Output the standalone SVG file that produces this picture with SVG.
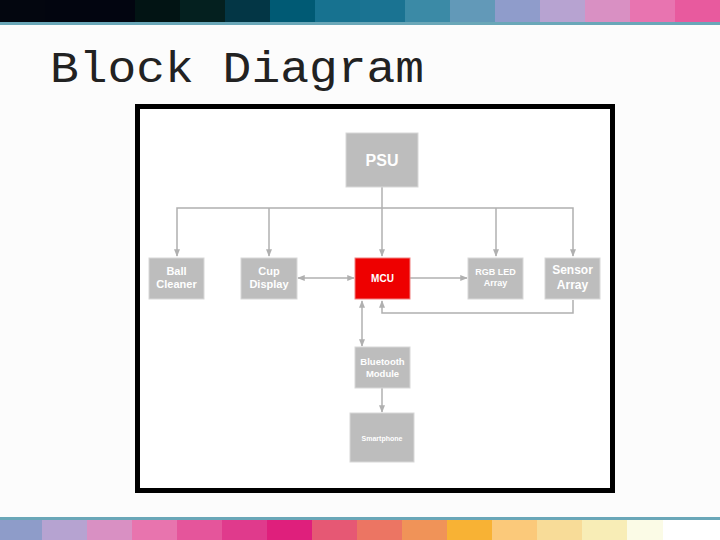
<svg xmlns="http://www.w3.org/2000/svg" width="720" height="540" viewBox="0 0 720 540">
<defs>
<marker id="ah" viewBox="0 0 10 10" refX="9" refY="5" markerWidth="5" markerHeight="5" orient="auto-start-reverse"><path d="M0,1 L10,5 L0,9 z" fill="#b0b0b0"/></marker>
<style>
.box{fill:#bdbdbd;stroke:#d8d8d8;stroke-width:1}
.t{font-family:"Liberation Sans",Arial,sans-serif;font-weight:bold;fill:#fff;text-anchor:middle}
.c{stroke:#b0b0b0;stroke-width:1.5;fill:none}
</style>
</defs>
<rect width="720" height="540" fill="#fcfcfc"/>
<g id="topbar">
<rect x="0" y="0" width="45" height="22" fill="#03060f"/><rect x="45" y="0" width="45" height="22" fill="#02050f"/><rect x="90" y="0" width="45" height="22" fill="#020510"/><rect x="135" y="0" width="45" height="22" fill="#021414"/><rect x="180" y="0" width="45" height="22" fill="#04201f"/><rect x="225" y="0" width="45" height="22" fill="#033645"/><rect x="270" y="0" width="45" height="22" fill="#005a74"/><rect x="315" y="0" width="45" height="22" fill="#177290"/><rect x="360" y="0" width="45" height="22" fill="#1a7392"/><rect x="405" y="0" width="45" height="22" fill="#3b8aa6"/><rect x="450" y="0" width="45" height="22" fill="#6299b8"/><rect x="495" y="0" width="45" height="22" fill="#8f9ccb"/><rect x="540" y="0" width="45" height="22" fill="#b7a3d1"/><rect x="585" y="0" width="45" height="22" fill="#d990c3"/><rect x="630" y="0" width="45" height="22" fill="#e874b0"/><rect x="675" y="0" width="45" height="22" fill="#e85a9e"/>
<rect x="0" y="22" width="720" height="3" fill="#6aa7b8"/>
</g>
<g id="bottombar">
<rect x="0" y="517" width="720" height="3" fill="#6aa7b8"/>
<rect x="0" y="520" width="720" height="20" fill="#ffffff"/>
<rect x="0" y="520" width="42" height="20" fill="#8e9cc9"/><rect x="42" y="520" width="45" height="20" fill="#b6a3d1"/><rect x="87" y="520" width="45" height="20" fill="#d990c3"/><rect x="132" y="520" width="45" height="20" fill="#e874ae"/><rect x="177" y="520" width="45" height="20" fill="#e5559b"/><rect x="222" y="520" width="45" height="20" fill="#e03a8c"/><rect x="267" y="520" width="45" height="20" fill="#df1f7c"/><rect x="312" y="520" width="45" height="20" fill="#e65874"/><rect x="357" y="520" width="45" height="20" fill="#ec7563"/><rect x="402" y="520" width="45" height="20" fill="#f09358"/><rect x="447" y="520" width="45" height="20" fill="#f8b234"/><rect x="492" y="520" width="45" height="20" fill="#fbc97a"/><rect x="537" y="520" width="45" height="20" fill="#f8dc98"/><rect x="582" y="520" width="45" height="20" fill="#f8edb6"/><rect x="627" y="520" width="36" height="20" fill="#fbfbe6"/>
</g>
<text x="50" y="82" font-family="Liberation Mono,monospace" font-size="44" textLength="374" lengthAdjust="spacingAndGlyphs" fill="#222">Block Diagram</text>
<rect x="137.500" y="106.500" width="475" height="384" fill="#fff" stroke="#000" stroke-width="5"/>
<g id="connectors">
<line class="c" x1="382" y1="187" x2="382" y2="256" marker-end="url(#ah)"/>
<polyline class="c" points="177,256 177,208 573,208 573,256" marker-start="url(#ah)" marker-end="url(#ah)"/>
<line class="c" x1="269" y1="208" x2="269" y2="256" marker-end="url(#ah)"/>
<line class="c" x1="496" y1="208" x2="496" y2="256" marker-end="url(#ah)"/>
<line class="c" x1="298" y1="278" x2="354" y2="278" marker-start="url(#ah)" marker-end="url(#ah)"/>
<line class="c" x1="410" y1="278" x2="467" y2="278" marker-end="url(#ah)"/>
<polyline class="c" points="573,300 573,313 382,313 382,301" marker-end="url(#ah)"/>
<line class="c" x1="362" y1="301" x2="362" y2="346" marker-start="url(#ah)" marker-end="url(#ah)"/>
<line class="c" x1="382" y1="388" x2="382" y2="412" marker-end="url(#ah)"/>
</g>
<g id="psu"><rect class="box" x="346" y="133" width="72" height="54"/><text class="t" x="382" y="166" font-size="16">PSU</text></g>
<g id="ball"><rect class="box" x="149" y="258" width="55" height="41"/><text class="t" x="176.500" y="275" font-size="11">Ball</text><text class="t" x="176.500" y="288" font-size="11">Cleaner</text></g>
<g id="cup"><rect class="box" x="241" y="258" width="56" height="41"/><text class="t" x="269" y="275" font-size="11">Cup</text><text class="t" x="269" y="288" font-size="11">Display</text></g>
<g id="mcu"><rect x="355" y="258" width="55" height="41" fill="#ee0000" stroke="#f08080"/><text class="t" x="382.500" y="282" font-size="10">MCU</text></g>
<g id="rgb"><rect class="box" x="468" y="258" width="55" height="41"/><text class="t" x="495.500" y="275" font-size="9">RGB LED</text><text class="t" x="495.500" y="286" font-size="9">Array</text></g>
<g id="sensor"><rect class="box" x="545" y="258" width="55" height="41"/><text class="t" x="572.500" y="274" font-size="12">Sensor</text><text class="t" x="572.500" y="289" font-size="12">Array</text></g>
<g id="bt"><rect class="box" x="355" y="347" width="55" height="41"/><text class="t" x="382.500" y="365" font-size="9.500">Bluetooth</text><text class="t" x="382.500" y="377" font-size="9.500">Module</text></g>
<g id="phone"><rect class="box" x="350" y="413" width="64" height="49"/><text class="t" x="382" y="441" font-size="7">Smartphone</text></g>
</svg>
